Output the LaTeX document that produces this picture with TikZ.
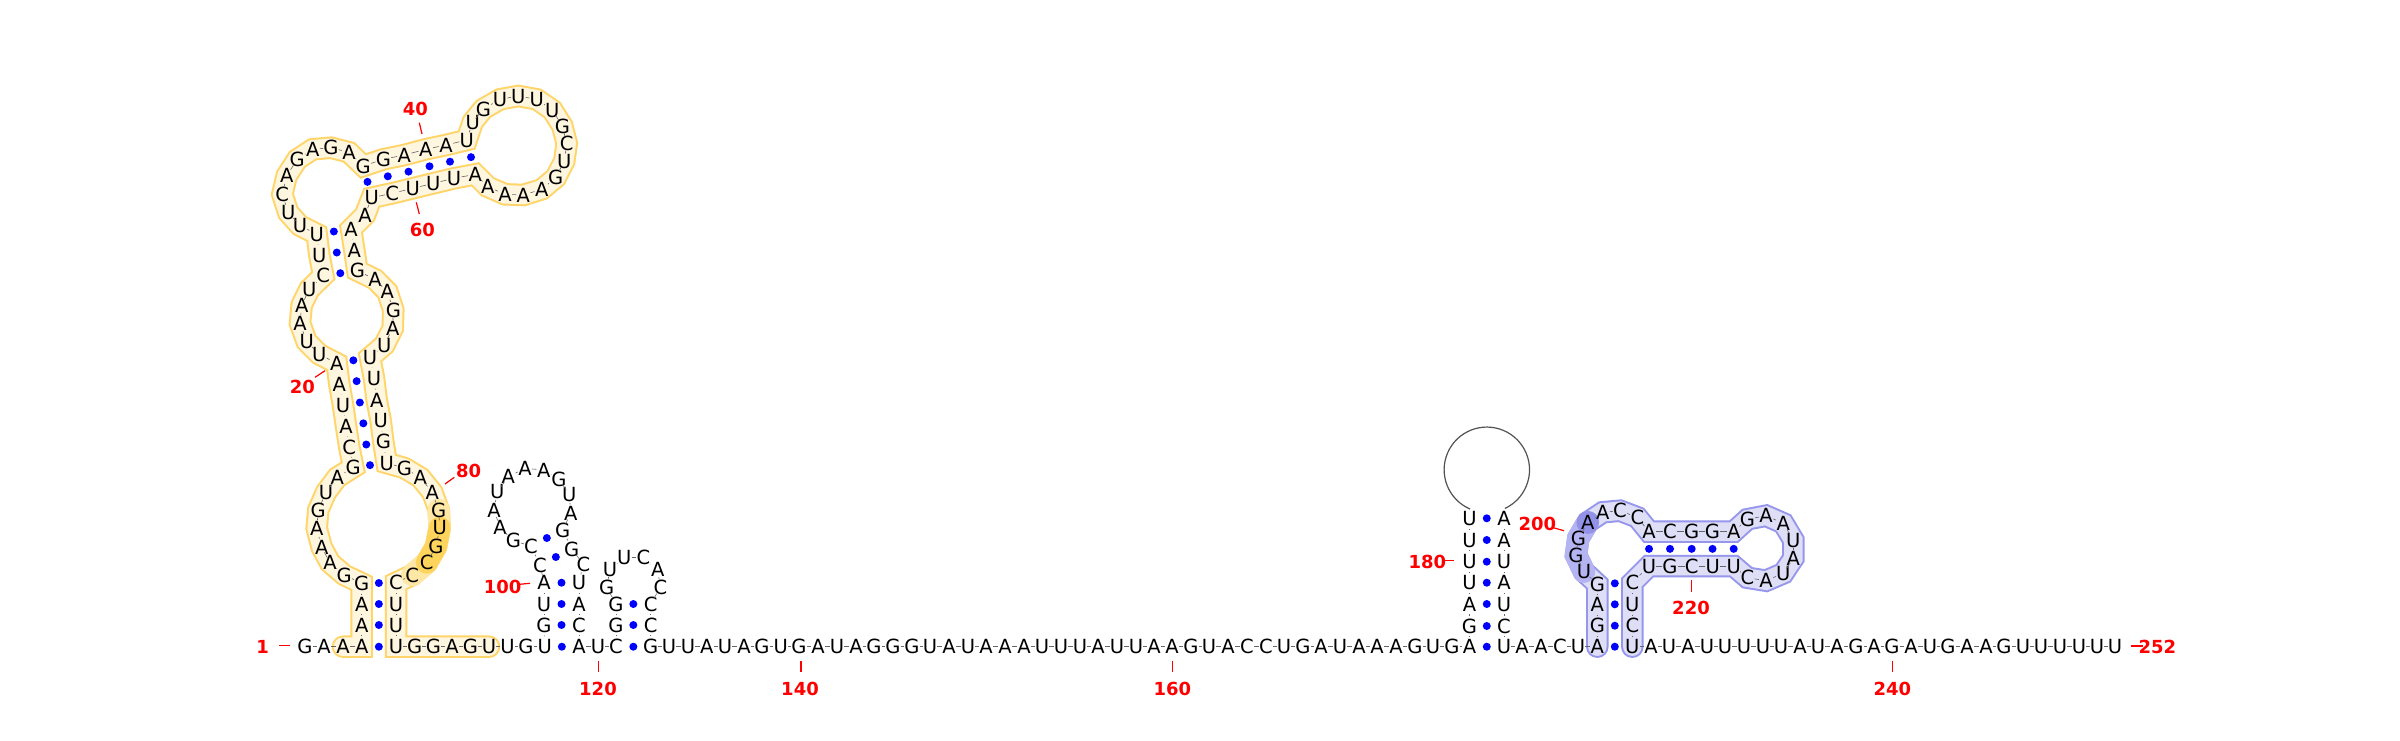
\documentclass[tikz,border=0pt]{standalone}
\usepackage{fontspec}
\setmainfont{DejaVu Sans}
\usetikzlibrary{calc}
\pgfdeclarelayer{bg}
\pgfsetlayers{bg,main}
\definecolor{ystroke}{HTML}{FFD468}
\definecolor{yfill}{HTML}{FFF6E0}
\definecolor{ymid}{HTML}{FFE7A6}
\definecolor{ydark}{HTML}{FFD45C}
\definecolor{bstroke}{HTML}{9696EC}
\definecolor{bfill}{HTML}{DEDEF7}
\definecolor{bmid}{HTML}{B4B4F2}
\definecolor{bdark}{HTML}{9292E8}
\tikzset{
  base/.style={rectangle,inner sep=0pt,minimum width=14pt,minimum height=20.4pt,text height=14.2pt,text depth=0pt,font=\fontsize{19.5}{19.5}\selectfont,text=black},
  bb/.style={draw=black!60,line width=0.6pt},
  pairdot/.style={circle,fill=blue,inner sep=0pt,minimum size=8pt},
  numlab/.style={font=\fontsize{18}{18}\bfseries\selectfont,text=red,inner sep=0pt},
  numtick/.style={draw=red,line width=1.2pt},
  looparc/.style={draw=black!68,line width=1.2pt},
  bandout/.style={line width=22.5pt,line cap=round,line join=miter},
  bandin/.style={line width=18.5pt,line cap=round,line join=miter}
}
\newcommand{\numtag}[8]{%
  \node[numlab] (lab#1) at (#3,#4) {#2};
  \coordinate (ta#1) at (#5,#6);
  \coordinate (tb#1) at (#7,#8);
  \draw[numtick] (ta#1) -- (tb#1);
}
\def\yb{646.7}
\begin{document}
\begin{tikzpicture}[x=1pt,y=-1pt]
\useasboundingbox (0,0) rectangle (2400,740);
\foreach \ch/\x/\y [count=\i] in {
G/305/\yb,A/324/\yb,A/343/\yb,A/361.7/\yb,A/361.7/625,A/361.7/604,G/361.7/583.3,G/344.3/575,A/330/562.7,A/321.7/547.3,
A/316.7/528.3,G/318.3/510,U/326/492.3,A/337.3/477.3,G/353.3/467.3,C/349.3/447.3,A/346/426,U/343/405,A/339.3/384,A/336.7/363.3,
U/319.3/354.3,U/306.7/341.7,A/300/323.3,A/301.7/305,U/309.3/289.3,C/323.3/275.7,U/319.3/255,U/316.7/234,U/300/225.7,U/288.3/212.7,
C/282.3/194.3,A/286.7/175.7,G/297.3/159.3,A/312.7/149.3,G/331/147.7,A/349/152.3,G/363.3/166,G/383.3/159.3,A/404.3/155,A/425.7/149.3,
A/446/145,U/466.7/140,U/472.7/122,G/483.3/109,U/500/99.3,U/518.3/96,U/536.7/99.3,U/552.3/110,G/562.3/126,C/566.7/143.3,
U/564.3/161,G/555.7/177.7,A/541.7/189.3,A/523.3/195,A/505/194.3,A/487.7/186.7,A/475.3/174.3,U/454/178.3,U/433.3/183.3,U/412.7/188.3,
C/392.3/193.3,U/371.7/197.7,A/365/215,A/351/229,A/354.3/250,G/357.3/270.7,A/375/279.3,A/387.3/291.7,G/393.3/310,A/392.7/328.3,
U/384.3/345,U/370/357.3,U/374/378.3,A/376.7/400,U/380.7/420.7,G/383.3/441.7,U/386.7/463,G/404.3/468,A/420.3/477.5,A/432.3/492.3,
G/438.7/510,U/439.7/527.7,G/436/546.7,C/426.7/562.7,C/412.3/575,C/396/582.7,U/396/604,U/396/625,U/396/\yb,G/414.7/\yb,
G/433.3/\yb,A/452/\yb,G/470.5/\yb,U/489/\yb,U/507.5/\yb,G/526/\yb,U/544.7/\yb,G/544/625,U/544/604,A/544/582.7,
C/540/565,C/531/546,G/513.3/540.7,A/500/527.3,A/494/510,U/497.3/491.7,A/508.3/476.7,A/525/468.3,A/543.7/470,G/559/479.3,
U/569.3/494.3,A/570.7/513.3,G/562.7/530,G/571.7/549,C/583.3/564,U/579/582.7,A/579/604,C/579/625,A/579/\yb,U/598/\yb,
C/616/\yb,G/616/625,G/616/604,G/606.7/587.3,U/610/569.3,U/624.3/557.7,C/643.3/557.7,A/657.7/569.3,C/660.3/587.3,C/650.7/604,
C/650.7/625,G/650.7/\yb,U/669/\yb,U/688/\yb,A/706.7/\yb,U/725/\yb,A/744/\yb,G/762/\yb,U/780.7/\yb,G/799/\yb,
A/818/\yb,U/837/\yb,A/856/\yb,G/874/\yb,G/893/\yb,G/912/\yb,U/930/\yb,A/949/\yb,U/968/\yb,A/986/\yb,
A/1005/\yb,A/1024/\yb,U/1042/\yb,U/1061/\yb,U/1080/\yb,A/1098/\yb,U/1117/\yb,U/1136/\yb,A/1154/\yb,A/1172/\yb,
G/1191/\yb,U/1209/\yb,A/1228/\yb,C/1247/\yb,C/1266/\yb,U/1284/\yb,G/1303/\yb,A/1321/\yb,U/1340/\yb,A/1359/\yb,
A/1377/\yb,A/1396/\yb,G/1415/\yb,U/1433/\yb,G/1452/\yb,A/1469.5/\yb,G/1469.5/626,A/1469.5/604,U/1469.5/582.7,U/1469.5/561.7,
U/1469.5/540,U/1469.5/518.3,A/1504/518.3,A/1504/540,U/1504/561.7,A/1504/582.7,U/1504/604,C/1504/626,U/1504/\yb,A/1522/\yb,
A/1541/\yb,C/1560/\yb,U/1578/\yb,A/1597.3/\yb,G/1597.3/625.7,A/1597.3/604.3,G/1597.3/584,U/1584/571.7,G/1576/555,G/1578.3/538.3,
A/1587.7/522.3,A/1602.7/512.3,C/1620/510.7,C/1637.3/517.3,A/1649/531.7,C/1670/531.7,G/1691.7/531.7,G/1712.3/531.7,A/1733.7/531.7,G/1747.3/519.3,
A/1766/515.7,A/1783.3/523.3,U/1793.3/540,A/1793.3/558.3,U/1783.3/573.3,A/1766/580.7,C/1747.3/577.7,U/1733.7/566,U/1712.7/566,C/1691.7/566,
G/1670/566,U/1649/566,C/1632.3/582.7,U/1632.3/604.3,C/1632.3/625.7,U/1632.3/\yb,A/1651/\yb,U/1669/\yb,A/1688/\yb,U/1707/\yb,
U/1725/\yb,U/1744/\yb,U/1763/\yb,U/1781/\yb,A/1800/\yb,U/1818/\yb,A/1837/\yb,G/1856/\yb,A/1874/\yb,G/1892/\yb,
A/1911/\yb,U/1930/\yb,G/1948/\yb,A/1967/\yb,A/1986/\yb,G/2004/\yb,U/2023/\yb,U/2041/\yb,U/2060/\yb,U/2079/\yb,
U/2097/\yb,U/2115/\yb}{
  \node[base] (r\i) at (\x,\y) {\ch};
  \pgfmathtruncatemacro{\j}{\i-1}
  \ifnum\i>1 \ifnum\i=183 \else \draw[bb] (r\j) -- (r\i); \fi\fi
}
% collapsed loop
\coordinate (la) at (1470,509);
\draw[looparc] (la) arc[start angle=246.8,end angle=-64.9,radius=42.7pt];
% base pairs
\foreach \a/\b in {4/89,5/88,6/87,7/86,15/77,16/76,17/75,18/74,19/73,20/72,26/66,27/65,28/64,
37/62,38/61,39/60,40/59,41/58,42/57,97/119,98/118,99/117,100/116,101/114,102/113,
121/132,122/131,123/130,176/189,177/188,178/187,179/186,180/185,181/184,182/183,
194/226,195/225,196/224,197/223,205/222,206/221,207/220,208/219,209/218}{
  \node[pairdot] (p\a) at ($(r\a)!.5!(r\b)$) {};
}
% highlight bands
\begin{pgfonlayer}{bg}
\fill[white] (0,0) rectangle (2400,740);
\draw[bandout,draw=ystroke] (r3.center) \foreach \k in {4,...,94}{-- (r\k.center)};
\draw[bandin,draw=yfill] (r3.center) \foreach \k in {4,...,94}{-- (r\k.center)};
\draw[line width=22.5pt,line cap=round,line join=round,draw=ymid] (r81.center) -- (r82.center) -- (r83.center) -- (r84.center) -- (r85.center);
\draw[line width=22pt,line cap=round,line join=round,draw=ydark] (r82.center) -- (r83.center) -- (r84.center);
\draw[bandout,draw=bstroke] (r194.center) \foreach \k in {195,...,226}{-- (r\k.center)};
\draw[bandin,draw=bfill] (r194.center) \foreach \k in {195,...,226}{-- (r\k.center)};
\draw[line width=22.5pt,line cap=round,line join=round,draw=bmid] (r198.center) -- (r199.center) -- (r200.center) -- (r201.center);
\draw[line width=22.5pt,line cap=round,draw=bdark] (r201.center) -- ++(0.1,0);
\end{pgfonlayer}
% numbering
\numtag{1}{1}{262.7}{646.7}{279.3}{645.3}{290}{645.3}
\numtag{20}{20}{302.3}{387.3}{315}{377.3}{325}{370.7}
\numtag{40}{40}{415.3}{109}{419.3}{122.7}{422}{134}
\numtag{60}{60}{422.3}{230}{416.3}{202.3}{419.3}{214}
\numtag{80}{80}{468.7}{470.7}{445}{484}{454.3}{477.3}
\numtag{100}{100}{502.7}{587.3}{519.3}{584.3}{530}{583.3}
\numtag{120}{120}{598}{689.3}{598.3}{661}{598.3}{671.7}
\numtag{140}{140}{800}{689.3}{801}{661}{801}{671.7}
\numtag{160}{160}{1172.3}{689.3}{1172.3}{661}{1172.3}{671.7}
\numtag{180}{180}{1427.3}{561.7}{1443.3}{560.3}{1454}{560.3}
\numtag{200}{200}{1537.3}{524}{1553.3}{527.7}{1564}{530.7}
\numtag{220}{220}{1691}{608.3}{1691.3}{580}{1691.3}{591.7}
\numtag{240}{240}{1892.3}{689.3}{1892.3}{661}{1892.3}{671.7}
\numtag{252}{252}{2157.3}{646.7}{2130.7}{646}{2143}{646}
\end{tikzpicture}
\end{document}
